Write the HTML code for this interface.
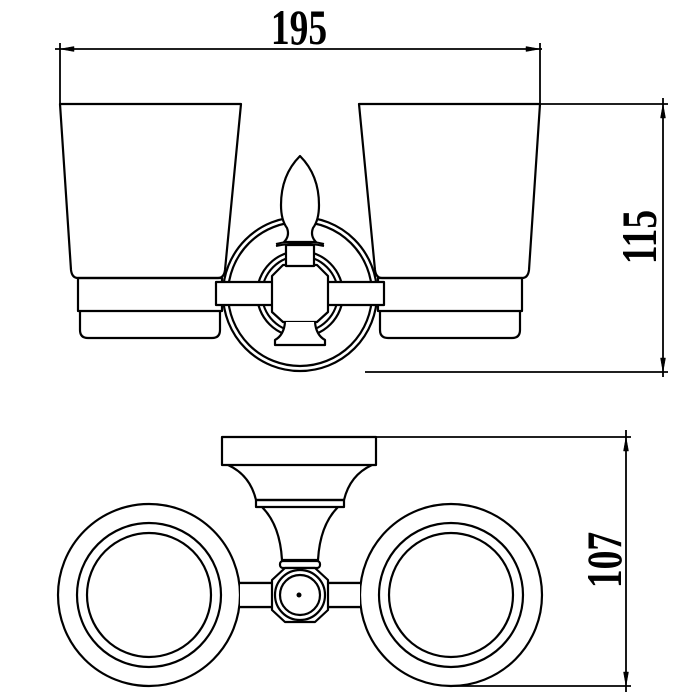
<!DOCTYPE html>
<html><head><meta charset="utf-8"><style>
html,body{margin:0;padding:0;background:#fff;}
svg{display:block;}
text{font-family:"Liberation Serif",serif;font-weight:bold;fill:#000;}
</style></head><body>
<svg width="700" height="700" viewBox="0 0 700 700" xmlns="http://www.w3.org/2000/svg">
<g fill="none" stroke="#000" stroke-width="2.2" stroke-linejoin="round">
<!-- 195 dimension -->
<line x1="55" y1="49" x2="542" y2="49" stroke-width="1.8"/>
<line x1="60" y1="43" x2="60" y2="104" stroke-width="1.8"/>
<line x1="540" y1="43" x2="540" y2="104" stroke-width="1.8"/>
<path d="M60 49 L74 46.5 L74 51.5 Z M540 49 L526 46.5 L526 51.5 Z" fill="#000" stroke-width="0.5"/>
<!-- 115 dimension -->
<line x1="540" y1="104" x2="668" y2="104" stroke-width="1.8"/>
<line x1="365" y1="372" x2="668" y2="372" stroke-width="1.8"/>
<line x1="663" y1="98" x2="663" y2="377" stroke-width="1.8"/>
<path d="M663 104 L660.5 118 L665.5 118 Z M663 372 L660.5 358 L665.5 358 Z" fill="#000" stroke-width="0.5"/>
<!-- left cup -->
<path d="M60 104 L241 104 L225 270 Q224 278 218 278 L78 278 Q72 278 71 270 Z"/>
<rect x="78" y="278" width="144" height="33"/>
<path d="M80 311 L80 330 Q80 338 88 338 L212 338 Q220 338 220 330 L220 311"/>
<!-- right cup -->
<path d="M359 104 L540 104 L529 270 Q528 278 522 278 L382 278 Q376 278 375 270 Z"/>
<rect x="378" y="278" width="144" height="33"/>
<path d="M380 311 L380 330 Q380 338 388 338 L512 338 Q520 338 520 330 L520 311"/>
<!-- rosette -->
<circle cx="300" cy="294" r="77" fill="#fff"/>
<circle cx="300" cy="294" r="72"/>
<circle cx="300" cy="294" r="43"/>
<circle cx="300" cy="294" r="38"/>
<rect x="216" y="282" width="168" height="23" fill="#fff"/>
<path d="M283 265 L317 265 L328 276 L328 312 L317 322 L283 322 L272 312 L272 276 Z" fill="#fff"/>
<path d="M285 322 Q284 335 275 340 L275 345 L325 345 L325 340 Q316 335 315 322" fill="#fff"/>
<rect x="286" y="245" width="28" height="21" fill="#fff"/>
<path d="M276 244 Q300 238 324 244 M276 246 Q300 241 324 246" stroke-width="2"/>
<path d="M300 156 Q281 175 281 205 Q281 220 287 228 Q290 236 284 242 L316 242 Q310 236 313 228 Q319 220 319 205 Q319 175 300 156 Z" fill="#fff"/>
<!-- bottom view: 107 dimension -->
<line x1="376" y1="437" x2="631" y2="437" stroke-width="1.8"/>
<line x1="450" y1="686" x2="631" y2="686" stroke-width="1.8"/>
<line x1="626" y1="430" x2="626" y2="692" stroke-width="1.8"/>
<path d="M626 437 L623.5 451 L628.5 451 Z M626 686 L623.5 672 L628.5 672 Z" fill="#000" stroke-width="0.5"/>
<!-- bracket -->
<rect x="222" y="437" width="154" height="28"/>
<path d="M228 465 Q250 475 256 500 L344 500 Q350 475 372 465"/>
<rect x="256" y="500" width="88" height="7"/>
<path d="M262 507 Q280 525 282 560 L318 560 Q320 525 338 507"/>
<rect x="280" y="561" width="40" height="7" rx="3"/>
<!-- rings -->
<rect x="236" y="583" width="128" height="24"/>
<circle cx="149" cy="595" r="91" fill="#fff"/>
<circle cx="149" cy="595" r="72"/>
<circle cx="149" cy="595" r="62"/>
<circle cx="451" cy="595" r="91" fill="#fff"/>
<circle cx="451" cy="595" r="72"/>
<circle cx="451" cy="595" r="62"/>
<rect x="240" y="583" width="32" height="24" fill="#fff" stroke="none"/>
<rect x="328" y="583" width="32" height="24" fill="#fff" stroke="none"/>
<line x1="239" y1="583" x2="272" y2="583"/><line x1="239" y1="607" x2="272" y2="607"/>
<line x1="328" y1="583" x2="361" y2="583"/><line x1="328" y1="607" x2="361" y2="607"/>
<path d="M285 568 L315 568 L328 580 L328 610 L315 622 L285 622 L272 610 L272 580 Z" fill="#fff"/>
<circle cx="300" cy="595" r="25"/>
<circle cx="300" cy="595" r="20"/>
<circle cx="299" cy="595" r="2.5" fill="#000" stroke="none"/>
</g>
<text x="0" y="0" font-size="50" text-anchor="middle" transform="translate(299 44) scale(0.75 1)">195</text>
<text x="0" y="0" font-size="50" text-anchor="middle" transform="translate(656 237) rotate(-90) scale(0.75 1)">115</text>
<text x="0" y="0" font-size="50" text-anchor="middle" transform="translate(621 560) rotate(-90) scale(0.75 1)">107</text>
</svg>
</body></html>
